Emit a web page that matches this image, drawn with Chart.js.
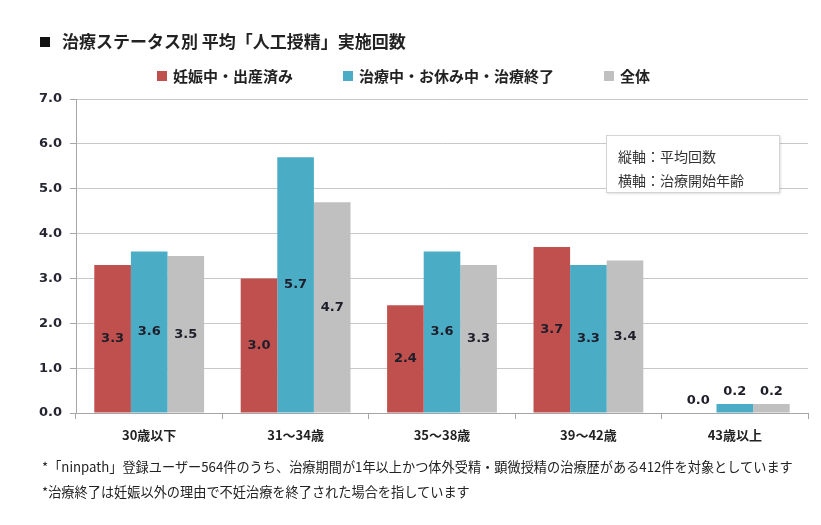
<!DOCTYPE html>
<html>
<head>
<meta charset="utf-8">
<title>治療ステータス別 平均「人工授精」実施回数</title>
<script src="https://cdn.jsdelivr.net/npm/chart.js"></script>
<style>
  body { margin: 0; background: #fff; }
  #wrap { position: relative; width: 821px; height: 525px; overflow: hidden;
          font-family: "Noto Sans CJK JP", "Noto Sans", sans-serif; color: #222; }
  #chart { position: absolute; left: 0; top: 0; }
  .title { position: absolute; left: 40px; top: 28px; font-size: 17px; font-weight: bold; white-space: nowrap; }
  .title .sq { display: inline-block; width: 10px; height: 10px; background: #111; margin-right: 12px; vertical-align: 1px; }
  #legend { position: absolute; left: 157px; top: 65px; display: flex; font-size: 15px; font-weight: bold; white-space: nowrap; }
  #legend .item { display: flex; align-items: center; margin-right: 50px; }
  #legend .box { width: 10px; height: 10px; margin-right: 6px; }
  .note { position: absolute; left: 606px; top: 135px; width: 174px; height: 58px; background: #fff;
          border: 1px solid #d4d4d4; box-shadow: 1px 1px 2px rgba(0,0,0,0.12);
          font-size: 14px; color: #333; box-sizing: border-box; padding: 8px 0 0 11px; line-height: 24px; }
  .foot { position: absolute; left: 42px; font-size: 13.2px; color: #222; white-space: nowrap; }
</style>
</head>
<body>
<div id="wrap">
  <canvas id="chart" width="821" height="525"></canvas>
  <div class="title"><span class="sq"></span>治療ステータス別 平均「人工授精」実施回数</div>
  <div id="legend"></div>
  <div class="note">縦軸：平均回数<br>横軸：治療開始年齢</div>
  <div class="foot" style="top:457px">*「ninpath」登録ユーザー564件のうち、治療期間が1年以上かつ体外受精・顕微授精の治療歴がある412件を対象としています</div>
  <div class="foot" style="top:482px">*治療終了は妊娠以外の理由で不妊治療を終了された場合を指しています</div>
</div>
<script>
const categories = ['30歳以下', '31～34歳', '35～38歳', '39～42歳', '43歳以上'];
const seriesNames = ['妊娠中・出産済み', '治療中・お休み中・治療終了', '全体'];
const seriesColors = ['#c0504d', '#4bacc6', '#c0c0c0'];
const pregnant = [3.3, 3.0, 2.4, 3.7, 0.0];
const inTreatment = [3.6, 5.7, 3.6, 3.3, 0.2];
const overall = [3.5, 4.7, 3.3, 3.4, 0.2];
const yTicks = [0, 1, 2, 3, 4, 5, 6, 7];

const seriesValues = [pregnant, inTreatment, overall];

// legend built from the series names and colours
const legendEl = document.getElementById('legend');
seriesNames.forEach((name, i) => {
  const item = document.createElement('div');
  item.className = 'item';
  item.innerHTML = '<span class="box" style="background:' + seriesColors[i] + '"></span>' + name;
  legendEl.appendChild(item);
});

// value labels: centred inside the bar, above it when the bar is too short
const barLabels = {
  id: 'barLabels',
  afterDatasetsDraw(chart) {
    const ctx = chart.ctx;
    ctx.save();
    ctx.font = 'bold 13px "DejaVu Sans", sans-serif';
    ctx.fillStyle = '#1e1e2a';
    ctx.textAlign = 'center';
    ctx.textBaseline = 'middle';
    chart.data.datasets.forEach((ds, di) => {
      chart.getDatasetMeta(di).data.forEach((bar, i) => {
        const v = ds.data[i];
        const h = bar.base - bar.y;
        const y = h > 24 ? bar.y + h / 2 : bar.y - 12;
        ctx.fillText(v.toFixed(1), bar.x, y);
      });
    });
    ctx.restore();
  }
};

new Chart(document.getElementById('chart'), {
  type: 'bar',
  data: {
    labels: categories,
    datasets: seriesNames.map((name, i) => ({
      label: name,
      data: seriesValues[i],
      backgroundColor: seriesColors[i],
      borderWidth: 0,
      categoryPercentage: 0.75,
      barPercentage: 1.0
    }))
  },
  options: {
    responsive: false,
    animation: false,
    devicePixelRatio: 1,
    layout: { padding: { top: 99, left: 20, right: 13, bottom: 72 } },
    plugins: { legend: { display: false }, tooltip: { enabled: false } },
    scales: {
      x: {
        grid: { offset: true, drawOnChartArea: false, tickLength: 6, color: '#a6a6a6' },
        border: { color: '#a6a6a6' },
        ticks: { color: '#222', padding: 8, font: { family: '"Noto Sans CJK JP", sans-serif', size: 13, weight: 'bold' } },
        afterFit(s) { s.height = 40; }
      },
      y: {
        min: yTicks[0],
        max: yTicks[yTicks.length - 1],
        afterBuildTicks(s) { s.ticks = yTicks.map(v => ({ value: v })); },
        grid: { color: '#c8c8c8', tickLength: 6, tickColor: '#a6a6a6' },
        border: { color: '#a6a6a6' },
        ticks: {
          color: '#262633',
          padding: 8,
          font: { family: '"DejaVu Sans", sans-serif', size: 13, weight: 'bold' },
          callback: v => Number(v).toFixed(1)
        },
        afterFit(s) { s.width = 56; }
      }
    }
  },
  plugins: [barLabels]
});
</script>
</body>
</html>
